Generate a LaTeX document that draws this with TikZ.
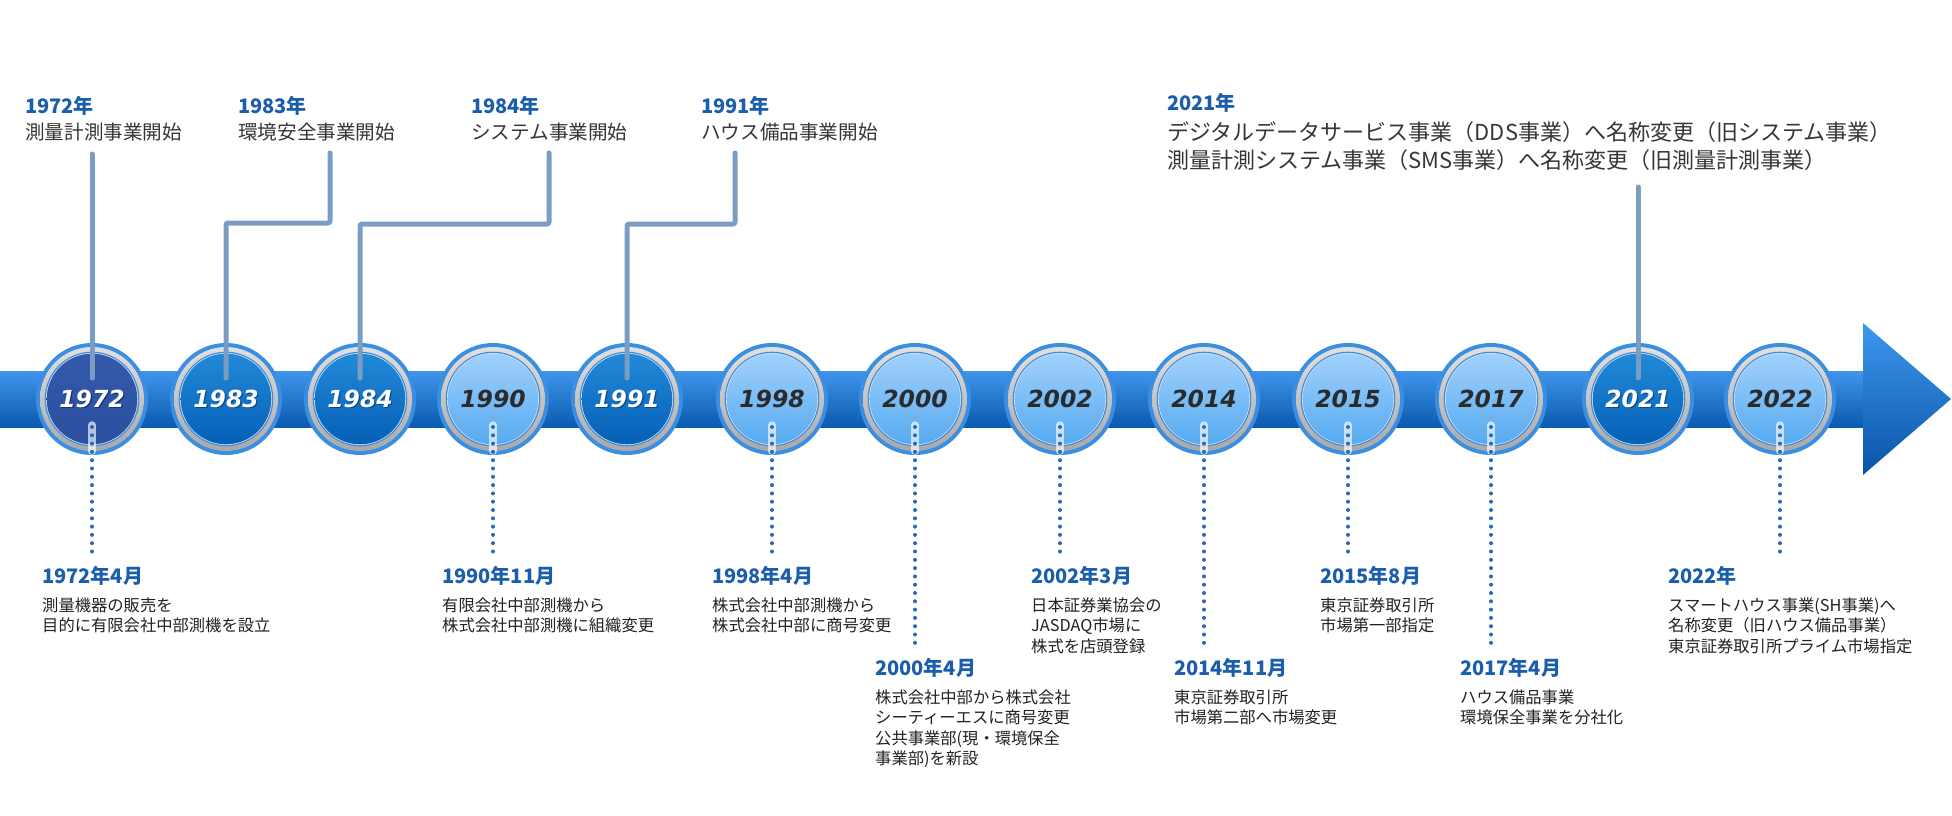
\documentclass[tikz,border=0pt]{standalone}
\usepackage{fontspec}
\newfontfamily\jp{Noto Sans CJK JP}
\newfontfamily\yrfont{DejaVu Sans}
\usetikzlibrary{calc}
\definecolor{bandtop}{HTML}{3F95EA}
\definecolor{bandmid}{HTML}{2A7FDA}
\definecolor{bandbot}{HTML}{0B5BB0}
\definecolor{arrtop}{HTML}{3D98EE}
\definecolor{arrbot}{HTML}{0953A8}
\definecolor{ringblue}{HTML}{3A8FE3}
\definecolor{innerline}{HTML}{3D88D6}
\definecolor{connc}{HTML}{7B9DC3}
\definecolor{dotc}{HTML}{2A68B8}
\definecolor{yearc}{HTML}{1B5EAB}
\definecolor{topgray}{HTML}{363636}
\definecolor{botgray}{HTML}{222222}
\tikzset{
  conn/.style={draw=connc, line width=5pt, line cap=round, line join=round, rounded corners=2pt},
  dotl/.style={draw=dotc, line width=4pt, line cap=round, dash pattern=on 0pt off 8.3pt},
  dotback/.style={draw=white, draw opacity=0.65, line width=7.5pt, line cap=round},
  topyear/.style={anchor=base west, inner sep=0pt, text=yearc, font=\jp\bfseries\fontsize{20}{24}\selectfont},
  topbody/.style={anchor=base west, inner sep=0pt, text=topgray, font=\jp\fontsize{19.6}{24}\selectfont},
  bigbody/.style={anchor=base west, inner sep=0pt, align=left, text=topgray, font=\jp\fontsize{22}{28}\selectfont},
  botyear/.style={anchor=base west, inner sep=0pt, text=yearc, font=\jp\bfseries\fontsize{20}{24}\selectfont},
  botbody/.style={anchor=base west, inner sep=0pt, align=left, text=botgray, font=\jp\fontsize{16.3}{20.6}\selectfont},
  ringshade/.style={top color=black!12, middle color=black!3, bottom color=black!34},
  lightfill/.style={top color={rgb,255:red,160;green,208;blue,252}, bottom color={rgb,255:red,86;green,170;blue,240}},
  darkfill/.style={top color={rgb,255:red,33;green,137;blue,216}, bottom color={rgb,255:red,6;green,96;blue,182}},
  firstfill/.style={top color={rgb,255:red,52;green,89;blue,171}, bottom color={rgb,255:red,44;green,79;blue,159}},
  yeartext/.style={inner sep=0pt, font=\yrfont\bfseries\itshape\fontsize{23.5}{26}\selectfont},
  lighttext/.style={yeartext, text={rgb,255:red,43;green,43;blue,43}},
  darktext/.style={yeartext, text=white},
  firsttext/.style={yeartext, text=white},
  lightshadow/.style={yeartext, text opacity=0},
  darkshadow/.style={yeartext, text={rgb,255:red,8;green,40;blue,90}, text opacity=0.55},
  firstshadow/.style={yeartext, text={rgb,255:red,10;green,25;blue,70}, text opacity=0.55},
  circnode/.style={circle, minimum size=112pt, inner sep=0pt},
}
% #1 name, #2 x, #3 year, #4 kind
\newcommand\yearcirc[4]{%
  \fill[ringblue] (#2,399) circle[radius=56pt];
  \shade[ringshade] (#2,399) circle[radius=52pt];
  \fill[innerline] (#2,399) circle[radius=47.3pt];
  \fill[white, opacity=0.75] (#2,399) circle[radius=46.1pt];
  \shade[#4fill] (#2,399) circle[radius=45.3pt];
  \node[circnode] (#1) at (#2,399) {};
  \node[#4shadow] at ($(#2,399)+(1.3,1.3)$) {#3};
  \node[#4text] at (#2,399) {#3};
}
\begin{document}
\begin{tikzpicture}[x=1pt,y=-1pt]
\useasboundingbox (0,0) rectangle (1952,815);
\fill[white] (0,0) rectangle (1952,815);

% band and arrow head
\shade[top color=bandtop, middle color=bandmid, bottom color=bandbot] (0,371) rectangle (1864,427);
\shade[top color=arrtop, bottom color=arrbot] (1863,323) -- (1951,399) -- (1863,475) -- cycle;

% circles
\yearcirc{c1972}{92}{1972}{first}
\yearcirc{c1983}{226}{1983}{dark}
\yearcirc{c1984}{360}{1984}{dark}
\yearcirc{c1990}{493}{1990}{light}
\yearcirc{c1991}{627}{1991}{dark}
\yearcirc{c1998}{772}{1998}{light}
\yearcirc{c2000}{915}{2000}{light}
\yearcirc{c2002}{1060}{2002}{light}
\yearcirc{c2014}{1204}{2014}{light}
\yearcirc{c2015}{1348}{2015}{light}
\yearcirc{c2017}{1491}{2017}{light}
\yearcirc{c2021}{1638}{2021}{dark}
\yearcirc{c2022}{1780}{2022}{light}

% top labels
\node[topyear] (ty1972) at (25,113) {1972年};
\node[topbody] (tb1972) at (25,139) {測量計測事業開始};
\node[topyear] (ty1983) at (238,113) {1983年};
\node[topbody] (tb1983) at (238,139) {環境安全事業開始};
\node[topyear] (ty1984) at (471,113) {1984年};
\node[topbody] (tb1984) at (471,139) {システム事業開始};
\node[topyear] (ty1991) at (701,113) {1991年};
\node[topbody] (tb1991) at (701,139) {ハウス備品事業開始};
\node[topyear] (ty2021) at (1167,110) {2021年};
% multi-line nodes: base anchor = baseline of the last line
\node[bigbody] (tb2021) at (1167,168) {デジタルデータサービス事業（DDS事業）へ名称変更（旧システム事業）\\測量計測システム事業（SMS事業）へ名称変更（旧測量計測事業）};

% connectors from top labels to circles
\coordinate (u1972) at (92,154);
\coordinate (e1972) at (92,378);
\draw[conn] (u1972) -- (e1972);

\coordinate (u1983) at (330,153);
\coordinate (h1983) at (226,223);
\coordinate (e1983) at (226,378);
\draw[conn] (u1983) |- (h1983) -- (e1983);

\coordinate (u1984) at (549,153);
\coordinate (h1984) at (360,224);
\coordinate (e1984) at (360,378);
\draw[conn] (u1984) |- (h1984) -- (e1984);

\coordinate (u1991) at (735,153);
\coordinate (h1991) at (627,224);
\coordinate (e1991) at (627,378);
\draw[conn] (u1991) |- (h1991) -- (e1991);

\coordinate (u2021) at (1638,187);
\coordinate (e2021) at (1638,378);
\draw[conn] (u2021) -- (e2021);

% dotted connectors to bottom labels
\foreach \n/\yend in {1972/555,1990/555,1998/555,2000/645,2002/555,2014/645,2015/555,2017/645,2022/555}{
  \draw[dotback] ($(c\n.center)+(0,26)$) -- ($(c\n.center)+(0,52)$);
  \coordinate (d\n) at ($(c\n.center |- 0,\yend)$);
  \draw[dotl] ($(c\n.center)+(0,28)$) -- (d\n);
}

% bottom labels, first row (years at baseline 583, first text line at 611)
\node[botyear] (by1972) at (42,583) {1972年4月};
\node[botbody] (bb1972) at (42,631.6) {測量機器の販売を\\目的に有限会社中部測機を設立};
\node[botyear] (by1990) at (442,583) {1990年11月};
\node[botbody] (bb1990) at (442,631.6) {有限会社中部測機から\\株式会社中部測機に組織変更};
\node[botyear] (by1998) at (712,583) {1998年4月};
\node[botbody] (bb1998) at (712,631.6) {株式会社中部測機から\\株式会社中部に商号変更};
\node[botyear] (by2002) at (1031,583) {2002年3月};
\node[botbody] (bb2002) at (1031,652.2) {日本証券業協会の\\JASDAQ市場に\\株式を店頭登録};
\node[botyear] (by2015) at (1320,583) {2015年8月};
\node[botbody] (bb2015) at (1320,631.6) {東京証券取引所\\市場第一部指定};
\node[botyear] (by2022) at (1668,583) {2022年};
\node[botbody] (bb2022) at (1668,652.2) {スマートハウス事業(SH事業)へ\\名称変更（旧ハウス備品事業）\\東京証券取引所プライム市場指定};

% bottom labels, second row (years at baseline 675, first text line at 703)
\node[botyear] (by2000) at (875,675) {2000年4月};
\node[botbody] (bb2000) at (875,764.8) {株式会社中部から株式会社\\シーティーエスに商号変更\\公共事業部(現・環境保全\\事業部)を新設};
\node[botyear] (by2014) at (1174,675) {2014年11月};
\node[botbody] (bb2014) at (1174,723.6) {東京証券取引所\\市場第二部へ市場変更};
\node[botyear] (by2017) at (1460,675) {2017年4月};
\node[botbody] (bb2017) at (1460,723.6) {ハウス備品事業\\環境保全事業を分社化};
\end{tikzpicture}
\end{document}
